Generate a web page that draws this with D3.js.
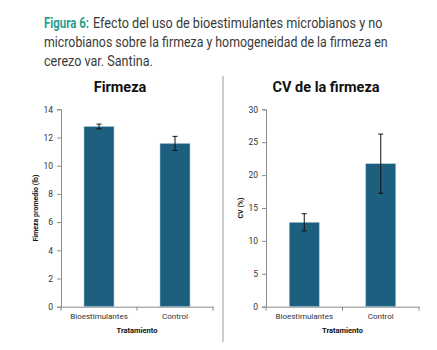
<!DOCTYPE html>
<html>
<head>
<meta charset="utf-8">
<script src="https://cdn.jsdelivr.net/npm/d3@7"></script>
<style>
  html, body { margin: 0; padding: 0; background: #fff; }
  svg { display: block; }
</style>
</head>
<body>
<svg id="chart" width="437" height="350"></svg>
<script>
// categories and values
const categories = ['Bioestimulantes', 'Control'];
const firmezaMean = [12.78, 11.58];
const firmezaErr = [0.17, 0.5];
const cvMean = [12.83, 21.73];
const cvErr = [1.3, 4.5];
const firmezaTicks = [0, 2, 4, 6, 8, 10, 12, 14];
const cvTicks = [0, 5, 10, 15, 20, 25, 30];

const svg = d3.select('#chart');
const barColor = '#1c5f7e';
const axisColor = '#8c8c8c';
const font = 'Roboto, "Liberation Sans", sans-serif';

// caption: each piece is its own text, squeezed horizontally to the width seen in the figure
const captionParts = [
  { t: 'Figura 6:', x: 44, y: 28, w: 45, bold: true, c: '#2a9d8f' },
  { t: 'Efecto del uso de bioestimulantes microbianos y no', x: 93, y: 28, w: 290, c: '#3a3a3a' },
  { t: 'microbianos sobre la firmeza y homogeneidad de la firmeza en', x: 44, y: 47, w: 344, c: '#3a3a3a' },
  { t: 'cerezo var. Santina.', x: 44, y: 66, w: 109, c: '#3a3a3a' }
];
captionParts.forEach(d => {
  const t = svg.append('text')
    .attr('font-family', font)
    .attr('font-size', '14px')
    .attr('font-weight', d.bold ? 700 : 400)
    .attr('fill', d.c)
    .text(d.t);
  const natural = t.node().getComputedTextLength();
  const sx = natural > 0 ? d.w / natural : 1;
  t.attr('transform', `translate(${d.x},${d.y}) scale(${sx},1)`);
});

// divider
svg.append('line')
  .attr('x1', 223).attr('x2', 223)
  .attr('y1', 76).attr('y2', 342)
  .attr('stroke', '#9a9a9a')
  .attr('stroke-width', 1);

const drawPanel = (opts) => {
  const { left, right, title, titleX, yLabel, yLabelX, mean, err, ticks } = opts;
  const top = 109.3, bottom = 306.7;

  const x = d3.scaleBand().domain(categories).range([left, right]).paddingInner(0).paddingOuter(0);
  const y = d3.scaleLinear().domain([0, d3.max(ticks)]).range([bottom, top]);
  const barW = 30;

  const g = svg.append('g');

  g.append('text')
    .attr('x', titleX).attr('y', 92)
    .attr('text-anchor', 'middle')
    .attr('font-family', font)
    .attr('font-weight', 700)
    .attr('font-size', '14.5px')
    .attr('fill', '#111')
    .text(title);

  // y axis
  const yAxis = g.append('g')
    .attr('transform', `translate(${left},0)`)
    .call(d3.axisLeft(y).tickValues(ticks).tickSize(4).tickPadding(4));
  yAxis.select('.domain').attr('stroke', axisColor);
  yAxis.selectAll('.tick line').attr('stroke', axisColor);
  yAxis.selectAll('.tick text')
    .attr('font-family', font)
    .attr('font-size', '8.5px')
    .attr('fill', '#333');

  // x axis with ticks at category boundaries
  const xAxis = g.append('g')
    .attr('transform', `translate(0,${bottom})`)
    .call(d3.axisBottom(x).tickSize(0).tickPadding(7));
  xAxis.select('.domain').attr('stroke', axisColor);
  xAxis.selectAll('.tick text')
    .attr('font-family', font)
    .attr('font-size', '8px')
    .attr('fill', '#333');
  [left, left + x.bandwidth(), right].forEach(px => {
    xAxis.append('line')
      .attr('x1', px).attr('x2', px)
      .attr('y1', 0).attr('y2', 4)
      .attr('stroke', axisColor);
  });

  // bars
  g.selectAll('rect.bar')
    .data(categories)
    .enter().append('rect')
    .attr('class', 'bar')
    .attr('x', d => x(d) + (x.bandwidth() - barW) / 2)
    .attr('y', (d, i) => y(mean[i]))
    .attr('width', barW)
    .attr('height', (d, i) => bottom - y(mean[i]))
    .attr('fill', barColor)
    .attr('stroke', '#a9c6d6')
    .attr('stroke-width', 0.6);

  // error bars
  categories.forEach((c, i) => {
    const cx = x(c) + x.bandwidth() / 2;
    const y1 = y(mean[i] + err[i]), y2 = y(mean[i] - err[i]);
    g.append('line').attr('x1', cx).attr('x2', cx).attr('y1', y1).attr('y2', y2)
      .attr('stroke', '#111').attr('stroke-width', 1);
    [y1, y2].forEach(yy => {
      g.append('line').attr('x1', cx - 2.5).attr('x2', cx + 2.5).attr('y1', yy).attr('y2', yy)
        .attr('stroke', '#111').attr('stroke-width', 1);
    });
  });

  // axis titles
  g.append('text')
    .attr('transform', `translate(${yLabelX},${(top + bottom) / 2}) rotate(-90)`)
    .attr('text-anchor', 'middle')
    .attr('font-family', font)
    .attr('font-weight', 700)
    .attr('font-size', '7px')
    .attr('fill', '#111')
    .text(yLabel);

  g.append('text')
    .attr('x', (left + right) / 2).attr('y', 333)
    .attr('text-anchor', 'middle')
    .attr('font-family', font)
    .attr('font-weight', 700)
    .attr('font-size', '7.5px')
    .attr('fill', '#111')
    .text('Tratamiento');
};

drawPanel({
  left: 61, right: 213, title: 'Firmeza', titleX: 120,
  yLabel: 'Fimeza promedio (lb)', yLabelX: 38,
  mean: firmezaMean, err: firmezaErr, ticks: firmezaTicks
});

drawPanel({
  left: 266, right: 419, title: 'CV de la firmeza', titleX: 326,
  yLabel: 'CV (%)', yLabelX: 243,
  mean: cvMean, err: cvErr, ticks: cvTicks
});
</script>
</body>
</html>
